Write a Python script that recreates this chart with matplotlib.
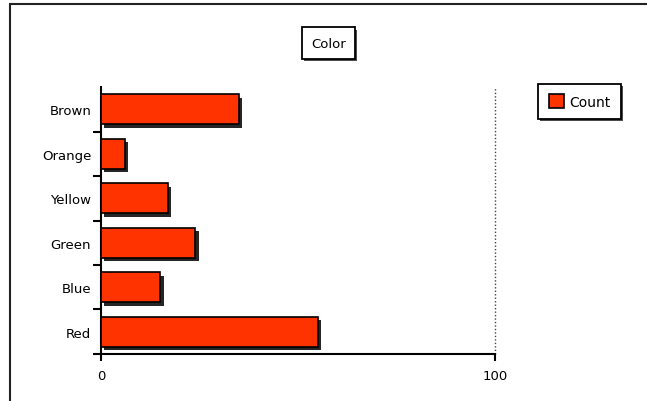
import matplotlib
matplotlib.use("Agg")
import matplotlib.pyplot as plt
import matplotlib.patheffects as pe
from matplotlib.patches import Rectangle

# data
colors = ['Red', 'Blue', 'Green', 'Yellow', 'Orange', 'Brown']
counts = [55, 15, 24, 17, 6, 35]
bar_color = '#ff3300'

plt.rcParams['font.family'] = 'DejaVu Sans'
plt.rcParams['font.size'] = 9.5

fig = plt.figure(figsize=(6.47, 4.02), dpi=100)
ax = fig.add_axes([0.156, 0.117, 0.609, 0.664])

shadow = [pe.SimplePatchShadow(offset=(2.5, -2.5), shadow_rgbFace='black', alpha=0.85), pe.Normal()]
small_shadow = [pe.SimplePatchShadow(offset=(1.5, -1.5), shadow_rgbFace='black', alpha=0.7), pe.Normal()]

ypos = list(range(len(colors)))
bars = ax.barh(ypos, counts, height=0.68, color=bar_color, edgecolor='black',
               linewidth=1.2, label='Count', zorder=3)
for b in bars:
    b.set_path_effects(shadow)

ax.set_xlim(0, 100)
ax.set_ylim(-0.5, len(colors) - 0.5)
ax.set_xticks([0, 100])
ax.set_yticks(ypos)
ax.set_yticklabels(colors)
ax.set_yticks([y - 0.5 for y in ypos], minor=True)
ax.tick_params(axis='y', which='major', length=0, pad=7)
ax.tick_params(axis='y', which='minor', length=6, width=1.5, direction='out')
ax.tick_params(axis='x', length=5, width=1.5, pad=6)

for s in ['top', 'right']:
    ax.spines[s].set_visible(False)
for s in ['left', 'bottom']:
    ax.spines[s].set_linewidth(1.5)

# dotted reference line at the axis maximum
ax.axvline(100, color='#444444', linestyle=(0, (1, 1.5)), linewidth=1, zorder=1, clip_on=False)

t = fig.text(0.508, 0.89, 'Color', ha='center', va='center',
             bbox=dict(boxstyle='square,pad=0.7', facecolor='white', edgecolor='black', linewidth=1.3))
t.get_bbox_patch().set_path_effects(small_shadow)

leg = ax.legend(loc='upper left', bbox_to_anchor=(0.832, 0.789), bbox_transform=fig.transFigure,
                fancybox=False, shadow=False, edgecolor='black', framealpha=1, fontsize=10,
                handlelength=1.1, handleheight=1.1, handletextpad=0.4, borderpad=0.75,
                borderaxespad=0)
leg.get_frame().set_linewidth(1.3)
leg.get_frame().set_path_effects(small_shadow)
for h in leg.legend_handles:
    h.set_path_effects([])

# outer window border (top and left edges)
fig.add_artist(Rectangle((10 / 647, -0.1), 1.2, 1.1 - 5 / 402, transform=fig.transFigure,
                         fill=False, edgecolor='#222222', linewidth=1.5))

fig.savefig('out.png', dpi=100)
